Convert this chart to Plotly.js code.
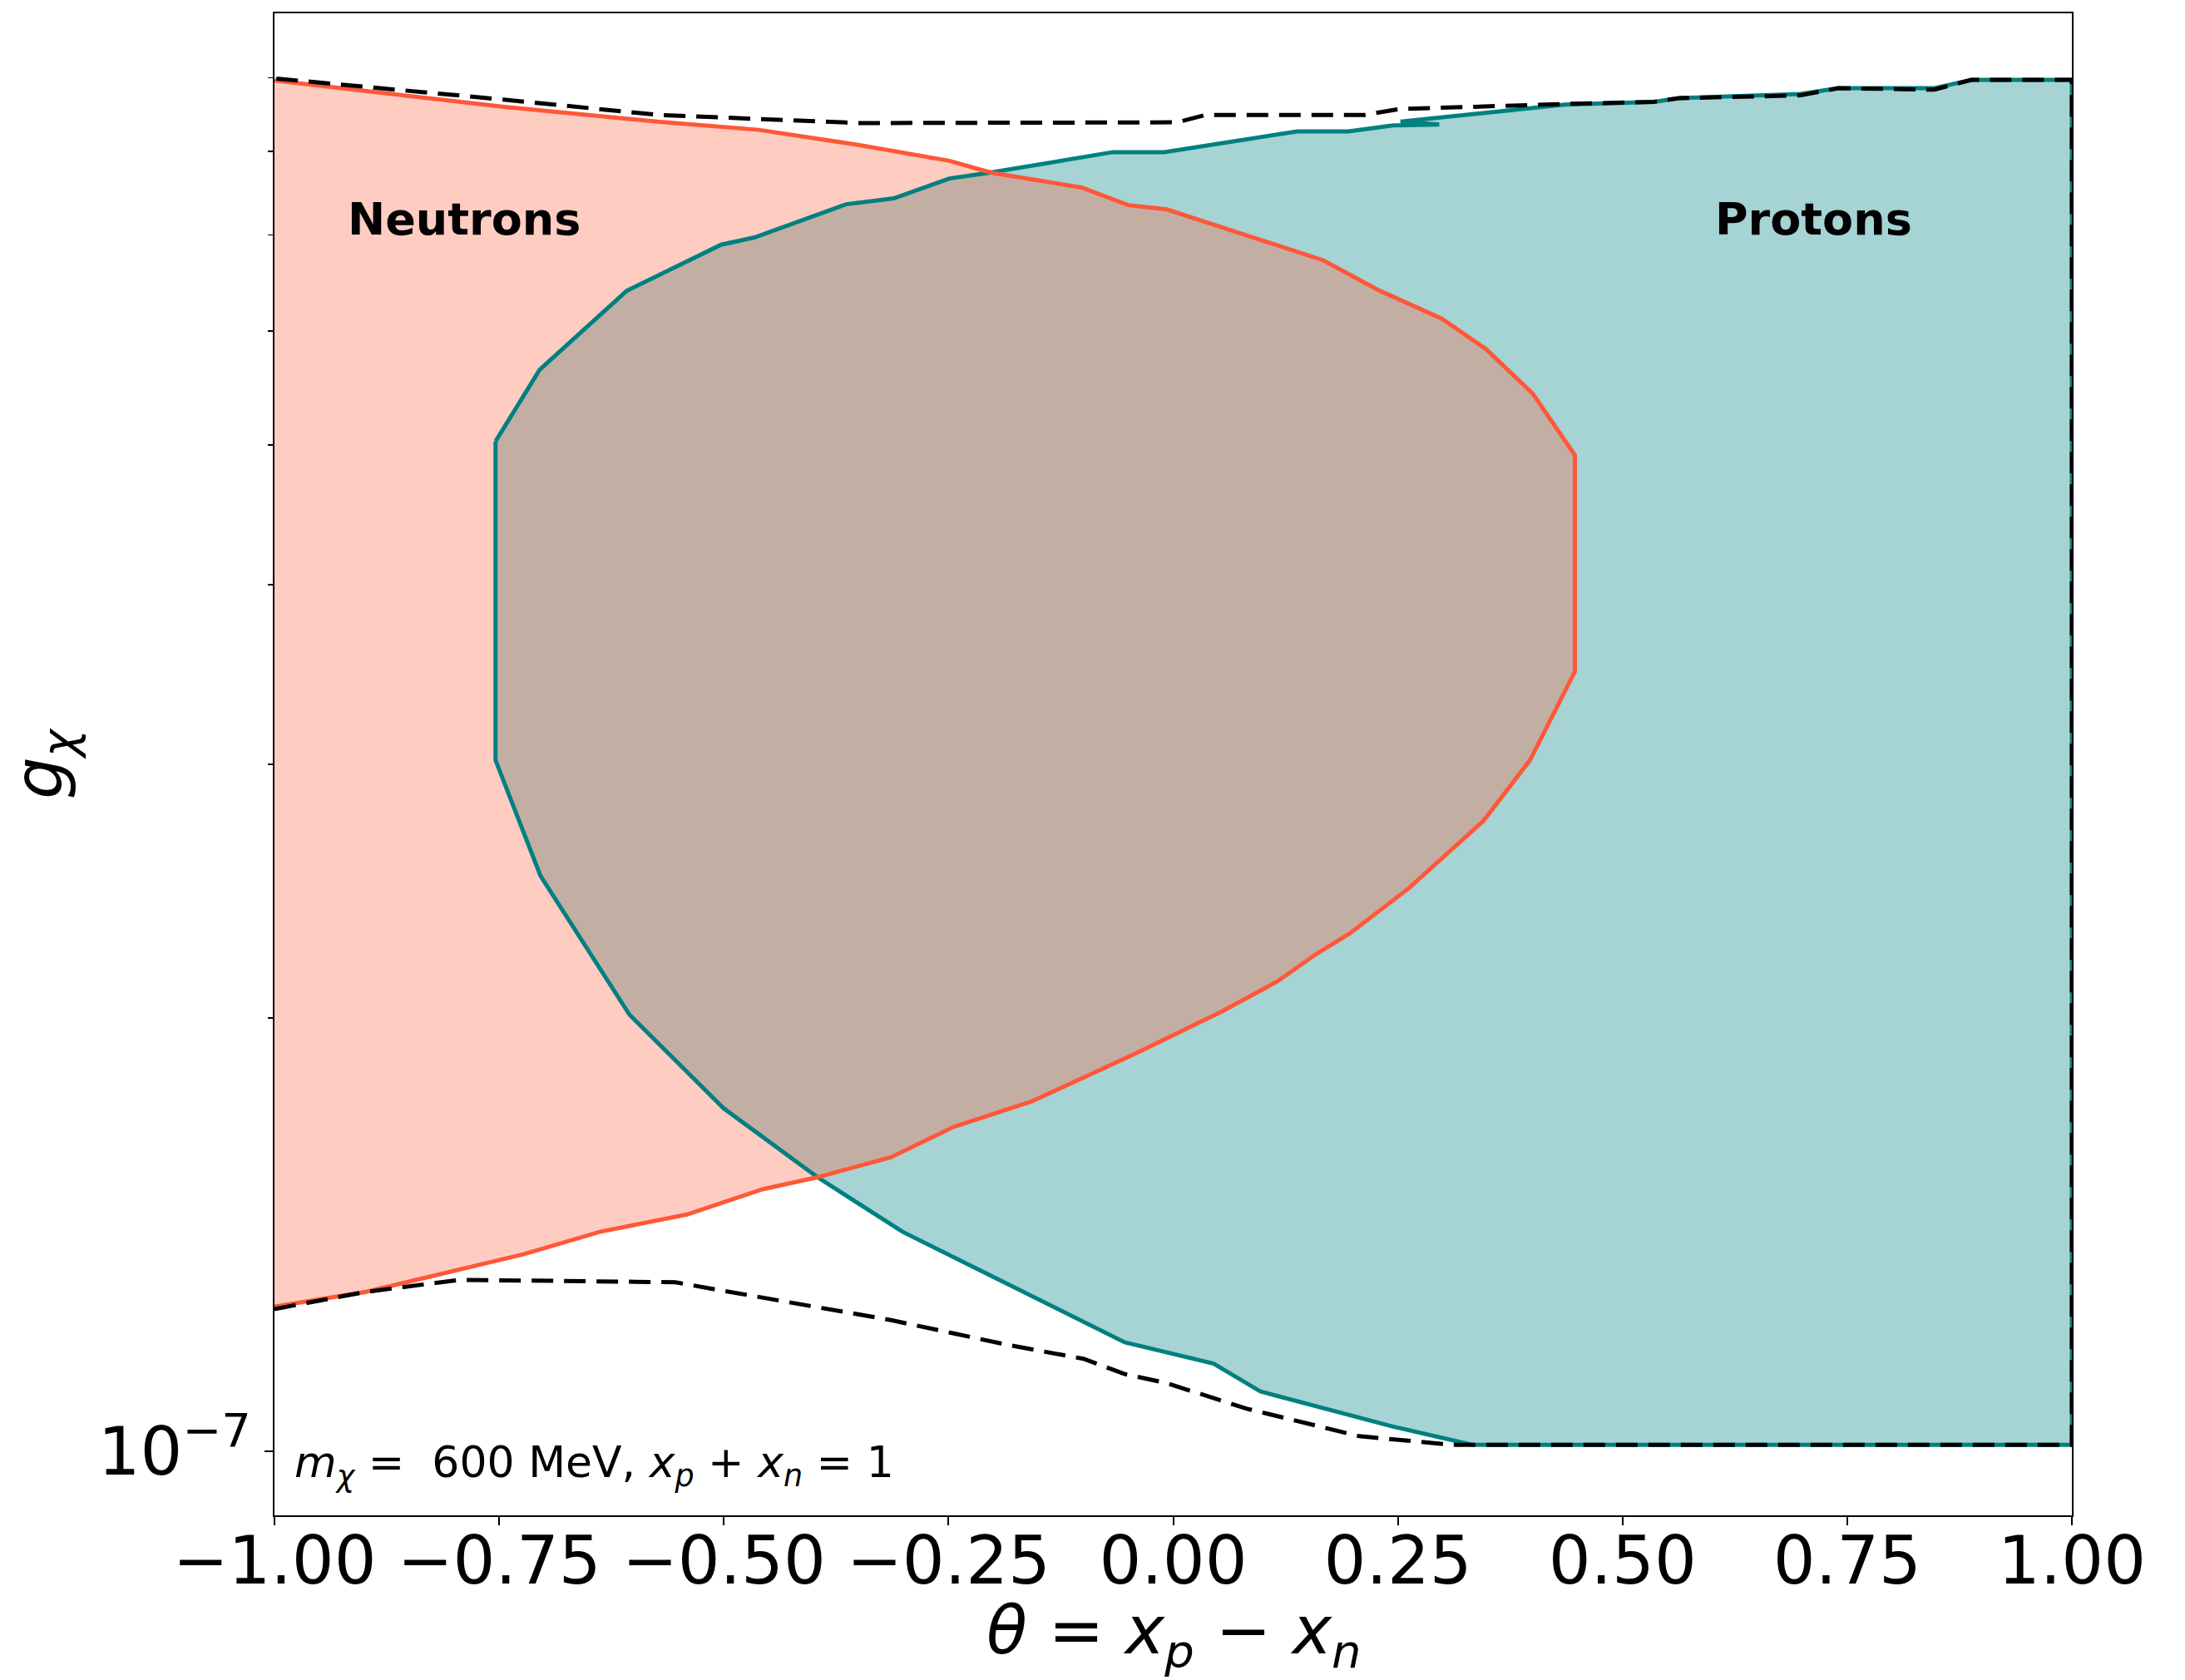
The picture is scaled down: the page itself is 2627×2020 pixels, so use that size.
<!DOCTYPE html>
<html>
<head>
<meta charset="utf-8">
<script src="https://cdn.plot.ly/plotly-3.0.1.min.js"></script>
<style>html,body{margin:0;padding:0;background:#fff;}#chart{width:2627px;height:2020px;}</style>
</head>
<body>
<div id="chart"></div>
<script>
// Neutrons allowed region (closed contour, theta vs g_chi)
const neutronTheta = [-1.0, -0.744, -0.574, -0.461, -0.349, -0.249, -0.202, -0.102, -0.050, -0.007,
  0.167, 0.230, 0.299, 0.348, 0.400, 0.447, 0.447, 0.397, 0.345, 0.262,
  0.197, 0.157, 0.116, 0.054, -0.041, -0.157, -0.244, -0.314, -0.395, -0.457,
  -0.541, -0.638, -0.723, -0.833, -0.898, -1.0];
const neutronG = [8.96e-7, 8.59e-7, 8.39e-7, 8.28e-7, 8.08e-7, 7.88e-7, 7.73e-7, 7.55e-7, 7.34e-7, 7.29e-7,
  6.72e-7, 6.40e-7, 6.12e-7, 5.83e-7, 5.43e-7, 4.92e-7, 3.48e-7, 3.02e-7, 2.74e-7, 2.46e-7,
  2.29e-7, 2.21e-7, 2.12e-7, 2.02e-7, 1.89e-7, 1.75e-7, 1.68e-7, 1.60e-7, 1.55e-7, 1.52e-7,
  1.46e-7, 1.42e-7, 1.37e-7, 1.32e-7, 1.29e-7, 1.26e-7];

// Protons allowed region (closed contour)
const protonTheta = [-0.754, -0.705, -0.608, -0.503, -0.466, -0.364, -0.311, -0.249, -0.205, -0.103,
  -0.067, -0.010, 0.138, 0.195, 0.245, 0.296, 0.253, 0.436, 0.535, 0.563,
  0.698, 0.740, 0.846, 0.889, 1.0, 1.0, 0.333, 0.244, 0.097, 0.045,
  -0.054, -0.301, -0.396, -0.500, -0.605, -0.704, -0.754];
const protonG = [5.03e-7, 5.64e-7, 6.40e-7, 6.89e-7, 6.97e-7, 7.35e-7, 7.42e-7, 7.66e-7, 7.73e-7, 7.92e-7,
  7.99e-7, 7.99e-7, 8.26e-7, 8.26e-7, 8.34e-7, 8.35e-7, 8.39e-7, 8.62e-7, 8.66e-7, 8.71e-7,
  8.77e-7, 8.85e-7, 8.85e-7, 8.97e-7, 8.97e-7, 1.01e-7, 1.01e-7, 1.04e-7, 1.10e-7, 1.15e-7,
  1.19e-7, 1.42e-7, 1.55e-7, 1.73e-7, 2.01e-7, 2.51e-7, 3.02e-7];

// Combined envelope (dashed)
const envelopeTheta = [-1.0, -0.898, -0.794, -0.554, -0.509, -0.314, -0.184, -0.100, -0.054, -0.008,
  0.082, 0.207, 0.310, 1.0,
  1.0, 0.888, 0.847, 0.740, 0.698, 0.563, 0.535, 0.436, 0.252, 0.213,
  0.036, 0.004, -0.349, -0.573, -0.745, -1.0];
const envelopeG = [1.255e-7, 1.29e-7, 1.315e-7, 1.31e-7, 1.295e-7, 1.233e-7, 1.185e-7, 1.159e-7, 1.131e-7, 1.115e-7,
  1.070e-7, 1.024e-7, 1.01e-7, 1.01e-7,
  8.97e-7, 8.97e-7, 8.83e-7, 8.85e-7, 8.75e-7, 8.71e-7, 8.66e-7, 8.63e-7, 8.56e-7, 8.48e-7,
  8.48e-7, 8.38e-7, 8.37e-7, 8.48e-7, 8.69e-7, 8.99e-7];

const xTickVals = [-1, -0.75, -0.5, -0.25, 0, 0.25, 0.5, 0.75, 1];
const xTickText = ['\u22121.00', '\u22120.75', '\u22120.50', '\u22120.25', '0.00', '0.25', '0.50', '0.75', '1.00'];
const yMajorVals = [1e-7];
const yMajorText = ['10<sup>\u22127</sup>'];
const yMinorVals = [2e-7, 3e-7, 4e-7, 5e-7, 6e-7, 7e-7, 8e-7, 9e-7];

const FONT = 'DejaVu Sans, sans-serif';
const teal = 'rgb(0,128,128)';
const tomato = 'rgb(255,87,56)';

const traces = [
  {x: protonTheta, y: protonG, type: 'scatter', mode: 'lines', fill: 'toself',
   fillcolor: 'rgba(0,128,128,0.35)', line: {width: 0}, hoverinfo: 'skip', showlegend: false},
  {x: neutronTheta, y: neutronG, type: 'scatter', mode: 'lines', fill: 'toself',
   fillcolor: 'rgba(255,99,71,0.33)', line: {width: 0}, hoverinfo: 'skip', showlegend: false},
  {x: protonTheta.concat([protonTheta[0]]), y: protonG.concat([protonG[0]]), type: 'scatter', mode: 'lines',
   line: {color: teal, width: 5}, hoverinfo: 'skip', showlegend: false},
  {x: neutronTheta, y: neutronG, type: 'scatter', mode: 'lines',
   line: {color: tomato, width: 5}, hoverinfo: 'skip', showlegend: false},
  {x: envelopeTheta, y: envelopeG, type: 'scatter', mode: 'lines',
   line: {color: 'black', width: 5, dash: '26px,13px'}, hoverinfo: 'skip', showlegend: false}
];

const layout = {
  width: 2627, height: 2020,
  margin: {l: 330, r: 136, t: 16, b: 198},
  paper_bgcolor: 'white', plot_bgcolor: 'white',
  font: {family: FONT, color: 'black'},
  xaxis: {
    range: [-1, 1], tickvals: xTickVals, ticktext: xTickText,
    ticks: 'outside', ticklen: 10, tickwidth: 2, tickcolor: 'black',
    ticklabelstandoff: -26,
    showline: true, linecolor: 'black', linewidth: 2, mirror: true,
    showgrid: false, zeroline: false,
    tickfont: {family: FONT, size: 80, color: 'black'}
  },
  yaxis: {
    type: 'log', range: [-7.0447, -6.001],
    tickvals: yMajorVals, ticktext: yMajorText,
    ticks: 'outside', ticklen: 10, tickwidth: 2, tickcolor: 'black',
    minor: {tickvals: yMinorVals, ticks: 'outside', ticklen: 6, tickwidth: 1.5, tickcolor: 'black', showgrid: false},
    showline: true, linecolor: 'black', linewidth: 2, mirror: true,
    showgrid: false, zeroline: false,
    tickfont: {family: FONT, size: 80, color: 'black'},
    title: {text: '<i>g</i><sub><i>\u03c7</i></sub>', font: {family: FONT, size: 80, color: 'black'}, standoff: 40}
  },
  annotations: [
    {text: '<i>\u03b8</i> = <i>x</i><sub><i>p</i></sub> \u2212 <i>x</i><sub><i>n</i></sub>',
     xref: 'paper', yref: 'paper', x: 0.5, y: -0.0795, xanchor: 'center', yanchor: 'middle',
     showarrow: false, font: {family: FONT, size: 80, color: 'black'}},
    {text: '<b>Neutrons</b>', xref: 'paper', yref: 'paper', x: 0.1055, y: 0.8632,
     xanchor: 'center', yanchor: 'middle', showarrow: false, font: {family: FONT, size: 54, color: 'black'}},
    {text: '<b>Protons</b>', xref: 'paper', yref: 'paper', x: 0.8563, y: 0.8632,
     xanchor: 'center', yanchor: 'middle', showarrow: false, font: {family: FONT, size: 54, color: 'black'}},
    {text: '<i>m</i><sub><i>\u03c7</i></sub> =  600 MeV, <i>x</i><sub><i>p</i></sub> + <i>x</i><sub><i>n</i></sub> = 1',
     xref: 'paper', yref: 'paper', x: 0.0102, y: 0.033,
     xanchor: 'left', yanchor: 'middle', showarrow: false, font: {family: FONT, size: 52, color: 'black'}}
  ]
};

Plotly.newPlot('chart', traces, layout, {staticPlot: true, displayModeBar: false});
</script>
</body>
</html>
